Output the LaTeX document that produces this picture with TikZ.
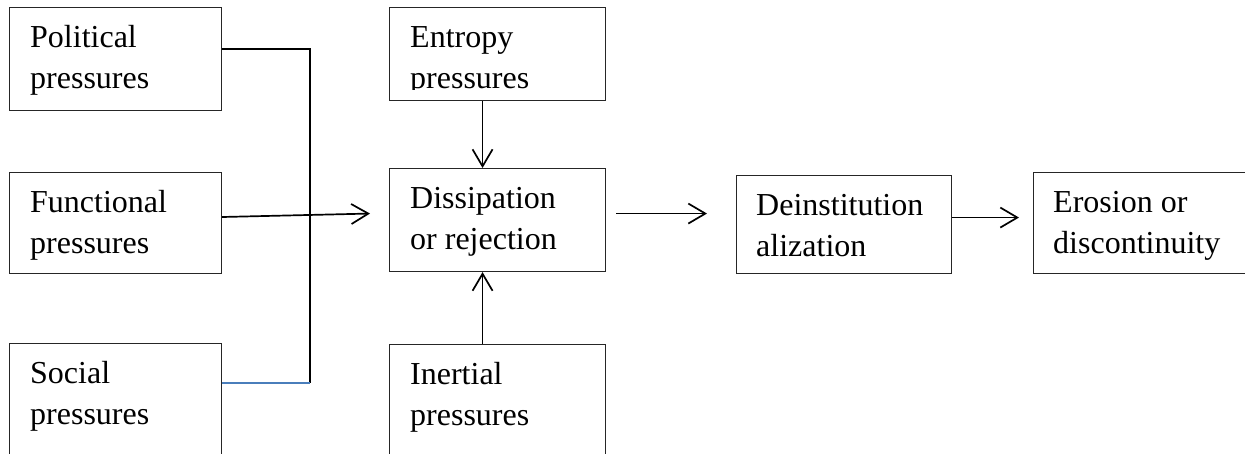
\documentclass[tikz,border=0pt]{standalone}
\usepackage{fontspec}
\setmainfont{Liberation Serif}
\usetikzlibrary{arrows.meta,calc}
\definecolor{lineblue}{HTML}{4A7EBB}
\tikzset{
  box/.style={draw=black!85, line width=1.1pt, inner sep=0pt, anchor=north west},
  lbl/.style={inner sep=0pt, anchor=north west, align=left, font=\fontsize{32}{41}\selectfont},
  conn/.style={line width=1.7pt, draw=black},
  arr/.style={conn, -{Straight Barb[length=17pt, width=20pt, line width=1.7pt]}},
}
\begin{document}
\begin{tikzpicture}[x=1pt,y=-1pt]
\useasboundingbox (0,0) rectangle (1245,453);
\clip (0,0) rectangle (1245,453);
% boxes
\node[box, minimum width=212, minimum height=103] (pol) at (9,7) {};
\node[box, minimum width=212, minimum height=101] (fun) at (9,172) {};
\node[box, minimum width=212, minimum height=130] (soc) at (9,343) {};
\node[box, minimum width=216, minimum height=93] (ent) at (389,7) {};
\node[box, minimum width=216, minimum height=103] (dis) at (389,168) {};
\node[box, minimum width=216, minimum height=130] (ine) at (389,344) {};
\node[box, minimum width=215, minimum height=98] (dei) at (736,175) {};
\node[box, minimum width=230, minimum height=101] (ero) at (1033,172) {};
% texts
\node[lbl] (polT) at ($(pol.north west)+(21,11.3)$) {\strut Political\\pressures};
\node[lbl] (funT) at ($(fun.north west)+(21,11.3)$) {\strut Functional\\pressures};
\node[lbl] (socT) at ($(soc.north west)+(21,11.3)$) {\strut Social\\pressures};
\begin{scope}
  \clip (389,7) rectangle (605,89.5);
  \node[lbl] (entT) at ($(ent.north west)+(21,11.3)$) {\strut Entropy\\pressures};
\end{scope}
\node[lbl] (disT) at ($(dis.north west)+(21,11.3)$) {\strut Dissipation\\or rejection};
\node[lbl] (ineT) at ($(ine.north west)+(21,11.3)$) {\strut Inertial\\pressures};
\node[lbl] (deiT) at ($(dei.north west)+(20,11.3)$) {\strut Deinstitution\\alization};
\node[lbl] (eroT) at ($(ero.north west)+(20,11.3)$) {\strut Erosion or\\discontinuity};
% connectors
\coordinate (j1) at (310,49);
\coordinate (j2) at (310,383);
\coordinate (fe) at ($(dis.west)+(-19,-6.5)$);
\draw[conn] ($(pol.north east)+(0,42)$) -- (j1) -- (j2);
\draw[conn, draw=lineblue] ($(soc.north east)+(0,40)$) -- (j2);
\draw[arr] ($(fun.north east)+(0,45)$) -- (fe);
\draw[arr] ($(ent.south)+(-15,0)$) -- ($(dis.north)+(-15,0)$);
\draw[arr] ($(ine.north)+(-15,0)$) -- ($(dis.south)+(-15,0)$);
\draw[arr] ($(dis.east)+(10,-6.5)$) -- ($(dei.west)+(-29,-11)$);
\draw[arr] ($(dei.east)+(0,-7)$) -- ($(ero.west)+(-14,-5.5)$);
\end{tikzpicture}
\end{document}
